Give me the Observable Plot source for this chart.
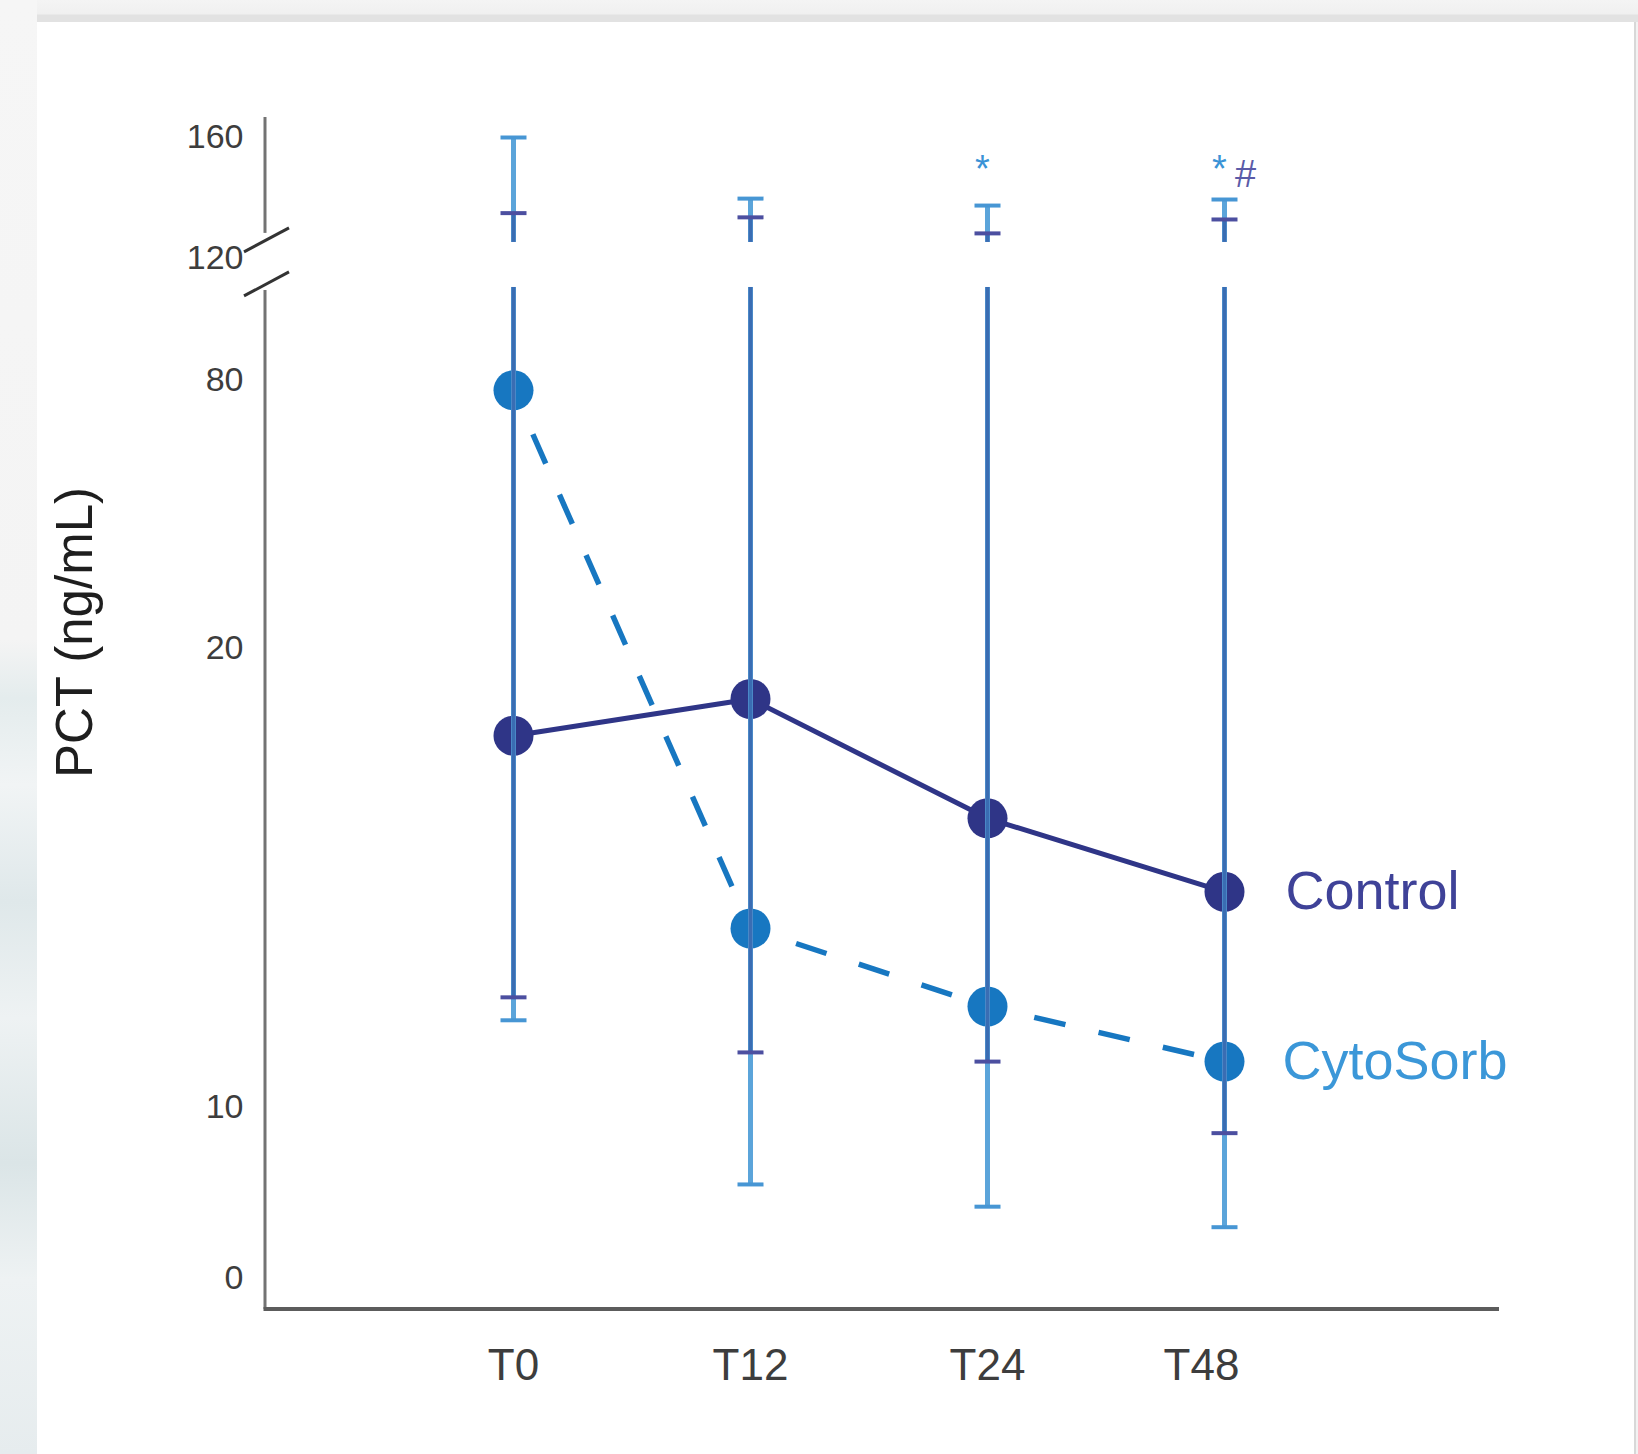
<!DOCTYPE html>
<html>
<head>
<meta charset="utf-8">
<script src="https://cdn.jsdelivr.net/npm/d3@7"></script>
<script src="https://cdn.jsdelivr.net/npm/@observablehq/plot@0.6"></script>
<style>
html, body { margin: 0; padding: 0; }
body { width: 1638px; height: 1454px; position: relative; overflow: hidden; background: #f2f2f2; font-family: "Liberation Sans", Arial, sans-serif; }
#topband { position: absolute; left: 0; top: 0; width: 1638px; height: 22px; background: linear-gradient(#f4f4f4 0px, #f0f0f0 14px, #e2e2e2 15px, #e2e2e2 22px); }
#leftband { position: absolute; left: 0; top: 0; width: 37px; height: 1454px;
  background: linear-gradient(180deg, #f6f6f6 0%, #f4f4f4 44%, #e4eced 48%, #f1f4f5 54%, #dfe8ea 62%, #eef2f3 70%, #dbe5e7 80%, #eef2f3 88%, #e6ecee 100%); }
#card { position: absolute; left: 37px; top: 22px; width: 1597px; height: 1432px; background: #ffffff; border-right: 2px solid #d8d8d8; }
#chart { position: absolute; left: 0; top: 0; }
</style>
</head>
<body>
<div id="topband"></div>
<div id="leftband"></div>
<div id="card"></div>
<div id="chart"></div>
<script>
// ---- data ----
const times = ["T0", "T12", "T24", "T48"];
const seriesNames = ["Control", "CytoSorb"];
const controlMean = [18.1, 18.9, 16.3, 14.7];
const controlLow  = [12.4, 11.2, 11.0, 8.5];
const controlHigh = [135, 133.6, 128.3, 132.9];
const cytoMean = [77.8, 13.9, 12.2, 11.0];
const cytoLow  = [11.9, 5.5, 4.2, 3.0];
const cytoHigh = [160, 139.8, 137.5, 139.5];
const yTicks = [0, 10, 20, 80, 120, 160];
const yLabel = "PCT (ng/mL)";
const sigCyto = ["T24", "T48"];      // "*" markers
const sigTime = ["T48"];             // "#" marker
const sigSymbols = ["*", "#"];
const axisBreak = [109.5, 128.3];    // gap in the y axis line
const barBreak = [110.5, 125.3];     // gap in the error bars
const slashValues = [126, 111.5];    // break slashes

// ---- tables ----
const ctrl = times.map((t, i) => ({time: t, mean: controlMean[i], low: controlLow[i], high: controlHigh[i]}));
const cyto = times.map((t, i) => ({time: t, mean: cytoMean[i], low: cytoLow[i], high: cytoHigh[i]}));
const cytoSegs = times.slice(1).map((t, i) => ({x1: times[i], y1: cytoMean[i], x2: t, y2: cytoMean[i + 1]}));

const cNavy = "#2f3587";
const cBlue = "#1777c1";

// horizontal cap symbol for whisker ends
const capSymbol = {
  draw(context, size) {
    const r = Math.sqrt(size / Math.PI);
    context.moveTo(-r, 0);
    context.lineTo(r, 0);
  }
};

function axisLines(index, scales, values, dims) {
  const {width, height, marginLeft, marginRight, marginTop, marginBottom} = dims;
  const x0 = marginLeft, yb = height - marginBottom;
  const gTop = scales.y(axisBreak[1]);
  const gBot = scales.y(axisBreak[0]);
  const g = d3.create("svg:g").attr("fill", "none");
  g.append("line").attr("x1", x0).attr("x2", x0).attr("y1", marginTop).attr("y2", gTop)
    .attr("stroke", "#737373").attr("stroke-width", 3);
  g.append("line").attr("x1", x0).attr("x2", x0).attr("y1", gBot).attr("y2", yb)
    .attr("stroke", "#737373").attr("stroke-width", 3);
  g.append("line").attr("x1", x0 - 1.5).attr("x2", width - marginRight).attr("y1", yb).attr("y2", yb)
    .attr("stroke", "#5c5c5c").attr("stroke-width", 4);
  for (const v of slashValues) {
    const cy = scales.y(v);
    g.append("line").attr("x1", x0 - 21).attr("y1", cy + 12).attr("x2", x0 + 24).attr("y2", cy - 12)
      .attr("stroke", "#333333").attr("stroke-width", 3);
  }
  return g.node();
}

const chart = Plot.plot({
  width: 1638,
  height: 1454,
  marginLeft: 265,
  marginRight: 139,
  marginTop: 117,
  marginBottom: 145,
  style: {background: "transparent", fontFamily: "'Liberation Sans', Arial, sans-serif"},
  x: {type: "point", domain: times, range: [512, 1224], padding: 0, axis: null},
  y: {type: "linear", domain: yTicks, range: [1278, 1107, 648, 380, 258, 137], axis: null},
  marks: [
    // lines
    Plot.line(ctrl, {x: "time", y: "mean", stroke: cNavy, strokeWidth: 5}),
    Plot.link(cytoSegs, {x1: "x1", y1: "y1", x2: "x2", y2: "y2", stroke: cBlue, strokeWidth: 5.5,
      strokeDasharray: "32,34", strokeDashoffset: 18}),
    // dots
    Plot.dot(ctrl, {x: "time", y: "mean", r: 20, fill: cNavy}),
    Plot.dot(cyto, {x: "time", y: "mean", r: 20, fill: cBlue}),
    // error bars
    Plot.ruleX(cyto, {x: "time", y1: "low", y2: "high", stroke: "#5ba4da", strokeWidth: 5}),
    Plot.dot(cyto, {x: "time", y: "low", symbol: capSymbol, r: 13, fill: "none", stroke: "#4796d4", strokeWidth: 4}),
    Plot.dot(cyto, {x: "time", y: "high", symbol: capSymbol, r: 13, fill: "none", stroke: "#4796d4", strokeWidth: 4}),
    Plot.ruleX(ctrl, {x: "time", y1: "low", y2: "high", stroke: "#3a6db3", strokeWidth: 4}),
    Plot.dot(ctrl, {x: "time", y: "low", symbol: capSymbol, r: 13, fill: "none", stroke: "#4c4fa0", strokeWidth: 4}),
    Plot.dot(ctrl, {x: "time", y: "high", symbol: capSymbol, r: 13, fill: "none", stroke: "#4c4fa0", strokeWidth: 4}),
    // break gap
    Plot.rect([barBreak], {y1: d => d[0], y2: d => d[1], fill: "white", insetLeft: -10}),
    // axes
    axisLines,
    Plot.text(yTicks, {y: d => d, text: d => String(d), frameAnchor: "left", dx: -22, textAnchor: "end",
      fontSize: 34, fill: "#3d3d3d"}),
    Plot.text(times.slice(0, 3), {x: d => d, text: d => d, frameAnchor: "bottom", dy: 39, lineAnchor: "top",
      textAnchor: "middle", fontSize: 44, fill: "#3d3d3d"}),
    Plot.text(times.slice(3), {x: d => d, text: d => d, frameAnchor: "bottom", dy: 39, dx: -23, lineAnchor: "top",
      textAnchor: "middle", fontSize: 44, fill: "#3d3d3d"}),
    Plot.text([yLabel], {text: d => d, frameAnchor: "left", textAnchor: "middle", lineAnchor: "middle",
      rotate: -90, dx: -190, dy: -81, fontSize: 51, fill: "#1e1e1e"}),
    // series labels
    Plot.text([ctrl[ctrl.length - 1]], {x: "time", y: "mean", text: () => seriesNames[0], dx: 61,
      textAnchor: "start", fontSize: 54, fill: "#3f4298"}),
    Plot.text([cyto[cyto.length - 1]], {x: "time", y: "mean", text: () => seriesNames[1], dx: 58,
      textAnchor: "start", fontSize: 54, fill: "#3b97d8"}),
    // significance markers
    Plot.text(sigCyto, {x: d => d, y: () => 143.5, text: () => sigSymbols[0], dx: -5, dy: -5, lineAnchor: "bottom",
      fontSize: 38, fill: "#3a93d6"}),
    Plot.text(sigTime, {x: d => d, y: () => 143.5, text: () => sigSymbols[1], dx: 21, lineAnchor: "bottom",
      fontSize: 38, fill: "#5b5ba8"})
  ]
});
document.getElementById("chart").appendChild(chart);
</script>
</body>
</html>
